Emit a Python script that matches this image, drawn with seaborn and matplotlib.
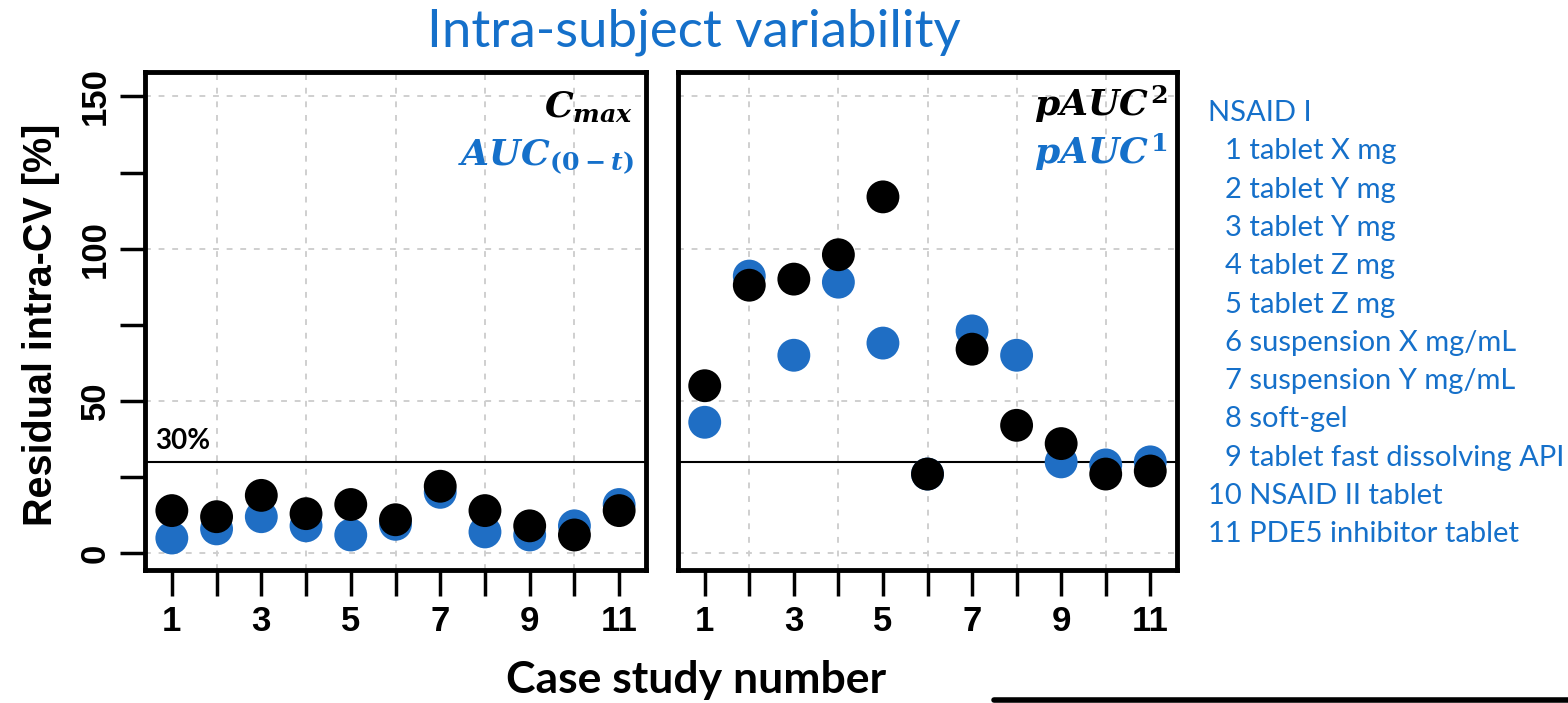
import numpy as np
import pandas as pd
import matplotlib
matplotlib.use("Agg")
import matplotlib.pyplot as plt
from matplotlib.lines import Line2D
import seaborn as sns

# ---------------- data ----------------
cases = [1, 2, 3, 4, 5, 6, 7, 8, 9, 10, 11]
cmax = [14, 12, 19, 13, 16, 11, 22, 14, 9, 6, 14]
auc0t = [5, 8, 12, 9, 6, 9.5, 20, 7, 6, 9, 16]
pauc2 = [55, 88, 90, 98, 117, 26, 67, 42, 36, 26, 27]
pauc1 = [43, 91, 65, 89, 69, 26, 73, 65, 30, 29, 30]
threshold = 30
xtick_labels = ["1", "", "3", "", "5", "", "7", "", "9", "", "11"]
ytick_vals = [0, 25, 50, 75, 100, 125, 150]
ytick_labels = ["0", "", "50", "", "100", "", "150"]
legend_title = "NSAID I"
legend_items = ["1 tablet X mg", "2 tablet Y mg", "3 tablet Y mg", "4 tablet Z mg",
                "5 tablet Z mg", "6 suspension X mg/mL", "7 suspension Y mg/mL",
                "8 soft-gel", "9 tablet fast dissolving API", "10 NSAID II tablet",
                "11 PDE5 inhibitor tablet"]

BLUE = "#1F6EC4"
TXTBLUE = "#1570CA"

sns.set_theme(style="white")
plt.rcParams["font.family"] = ["Liberation Sans", "DejaVu Sans"]
plt.rcParams["text.color"] = "black"
plt.rcParams["xtick.color"] = "black"
plt.rcParams["ytick.color"] = "black"
plt.rcParams["xtick.labelcolor"] = "black"
plt.rcParams["ytick.labelcolor"] = "black"
plt.rcParams["mathtext.fontset"] = "custom"
plt.rcParams["mathtext.it"] = "DejaVu Serif:italic:bold"
plt.rcParams["mathtext.rm"] = "DejaVu Serif:bold"
plt.rcParams["mathtext.bf"] = "DejaVu Serif:bold"

W, H = 1568, 703
fig = plt.figure(figsize=(W / 100, H / 100), dpi=100)
fig.patch.set_facecolor("white")

ax1 = fig.add_axes([145 / W, 1 - 570 / H, 501 / W, 498 / H])
ax2 = fig.add_axes([678 / W, 1 - 570 / H, 499 / W, 498 / H])

df = pd.DataFrame({"case": cases, "cmax": cmax, "auc0t": auc0t,
                   "pauc2": pauc2, "pauc1": pauc1})

for ax, blue_col, black_col in [(ax1, "auc0t", "cmax"), (ax2, "pauc1", "pauc2")]:
    ax.set_facecolor("white")
    for gx in [2, 4, 6, 8, 10]:
        ax.axvline(gx, color="#cfcfcf", ls=(0, (3, 4)), lw=1.4, zorder=0)
    for gy in [0, 50, 100, 150]:
        ax.axhline(gy, color="#cfcfcf", ls=(0, (3, 4)), lw=1.4, zorder=0)
    ax.axhline(threshold, color="black", lw=1.5, zorder=2)
    sns.scatterplot(data=df, x="case", y=blue_col, color=BLUE, s=560,
                    edgecolor="none", linewidth=0, ax=ax, zorder=3, legend=False)
    sns.scatterplot(data=df, x="case", y=black_col, color="black", s=560,
                    edgecolor="none", linewidth=0, ax=ax, zorder=4, legend=False)
    ax.set_xlim(0.4, 11.6)
    ax.set_ylim(-5.5, 158)
    ax.set_xlabel("")
    ax.set_ylabel("")
    for sp in ax.spines.values():
        sp.set_visible(True)
        sp.set_color("black")
        sp.set_linewidth(3.5)
    ax.set_xticks(cases)
    ax.set_xticklabels(xtick_labels, fontsize=25, fontweight="bold", color="black")
    ax.tick_params(axis="x", length=19, width=2.5, color="black", direction="out",
                   pad=6, bottom=True)
    ax.grid(False)

ax1.set_yticks(ytick_vals)
ax1.set_yticklabels(ytick_labels, fontsize=25, fontweight="bold", rotation=90,
                    va="center", color="black")
ax1.tick_params(axis="y", length=18, width=2.5, color="black", direction="out", pad=6, left=True)
ax2.set_yticks([])

# panel labels
ax1.text(0.975, 0.93, r"$C_{max}$", transform=ax1.transAxes, ha="right", va="center",
         fontsize=26, color="black")
ax1.text(0.975, 0.83, r"$AUC_{(0-t)}$", transform=ax1.transAxes, ha="right", va="center",
         fontsize=26, color=TXTBLUE)
ax2.text(0.98, 0.935, r"$pAUC^{2}$", transform=ax2.transAxes, ha="right", va="center",
         fontsize=26, color="black")
ax2.text(0.98, 0.84, r"$pAUC^{1}$", transform=ax2.transAxes, ha="right", va="center",
         fontsize=26, color=TXTBLUE)
ax1.text(0.02, threshold + 2.5, "30%", transform=ax1.get_yaxis_transform(), ha="left",
         va="bottom", fontsize=20, fontweight="bold", family="Lato", color="black")

# titles / labels
fig.text(694 / W, 1 - 32 / H, "Intra-subject variability", ha="center", va="center",
         fontsize=38, color=TXTBLUE, family="Lato")
fig.text(696 / W, 1 - 680 / H, "Case study number", ha="center", va="center",
         fontsize=32, fontweight="bold", family="Lato", color="black")
fig.text(41 / W, 1 - 325 / H, "Residual intra-CV [%]", ha="center", va="center",
         rotation=90, fontsize=28.5, fontweight="bold", color="black")

# legend text
y0, dy = 113, 38.3
fig.text(1208 / W, 1 - y0 / H, legend_title, ha="left", va="center", fontsize=21,
         family="Lato", color=TXTBLUE)
for i, item in enumerate(legend_items):
    x = 1208 if item.split()[0] in ("10", "11") else 1225
    fig.text(x / W, 1 - (y0 + dy * (i + 1)) / H, item, ha="left", va="center",
             fontsize=21, family="Lato", color=TXTBLUE)

fig.add_artist(Line2D([994 / W, 1.0], [1 - 700 / H, 1 - 700 / H], lw=4,
                      color="black", transform=fig.transFigure))

fig.savefig("out.png", dpi=100, facecolor="white")
